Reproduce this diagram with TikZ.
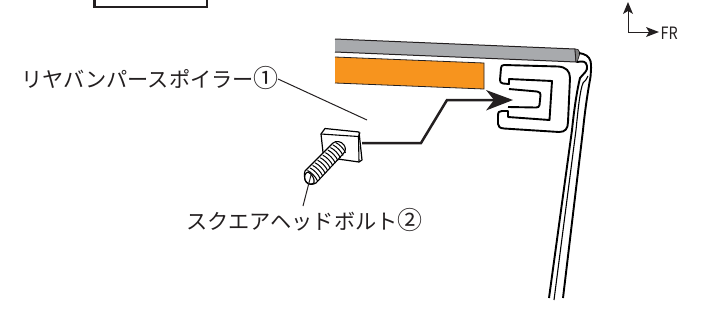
\documentclass[tikz,border=0pt]{standalone}
\usepackage{fontspec}
\newfontfamily\cjk{Noto Sans CJK JP}
\definecolor{barg}{RGB}{168,170,173}
\definecolor{orangef}{RGB}{247,148,30}
\definecolor{inkd}{RGB}{35,31,32}
\newcommand{\circnum}[1]{{\fontsize{25}{21}\selectfont #1}}
\tikzset{
  lab/.style={font=\cjk\fontsize{21.2}{21}\selectfont,text=inkd,inner sep=0pt,anchor=west},
  leader/.style={draw=inkd,line width=1pt},
  thick line/.style={draw=black,line width=1.9pt,line join=round},
  thin line/.style={draw=black,line width=1.1pt,line join=round}
}
\begin{document}
\begin{tikzpicture}[x=1pt,y=-1pt]
\useasboundingbox (0,0) rectangle (712,322);
% box at top
\draw[draw=inkd,line width=2.6pt] (94.5,-6) -- (94.5,7) -- (207,7) -- (207,-6);
% gray bar
\filldraw[fill=barg,draw=inkd,line width=1pt,line join=round] (335,39) -- (575,49) -- (576,62) -- (335,52);
\filldraw[fill=gray,draw=inkd,line width=0.7pt,line join=round] (575,49) -- (578,49.5) -- (580,53) -- (577,62.5) -- (576,62) -- cycle;
% orange
\filldraw[fill=orangef,draw=inkd,line width=0.8pt] (335,57) -- (484,63) -- (484,89) -- (335,83);
% post
\draw[thick line] (549,298) -- (572,130) .. controls (574,110) and (577,90) .. (580,78) .. controls (584,73) and (588,71) .. (587,66) .. controls (586,61) and (583,61) .. (577,62);
\draw[thick line] (563,298) -- (583,130) .. controls (585,110) and (588,90) .. (590.5,77) .. controls (591,70) and (591.5,65) .. (590.5,61) .. controls (589,56) and (585,54) .. (579,53);
\draw[thin line] (554,300) -- (576,130) .. controls (578,110) and (580,90) .. (583,83) .. controls (585,81) and (587,79) .. (588,76);
% bracket
\draw[thick line,fill=white] (501,68) .. controls (501,66) and (502,65) .. (504,65) -- (558,66.5)
  .. controls (566,67) and (570,71) .. (570,78) -- (568,122) .. controls (568,129) and (565,132) .. (559,132)
  -- (504,128.5) .. controls (500,128) and (498,127) .. (498,124) -- (498,116) .. controls (498,112) and (499,111) .. (502,111) -- (508,111) -- (508,117)
  -- (549.5,120) -- (552,81) -- (509,79) -- (509,84) -- (503,83.5) .. controls (501,83) and (500,82) .. (500,80) -- cycle;
\draw[thick line] (509,89) -- (537,91.5) .. controls (540,92) and (540.5,93) .. (540.5,95) -- (539.5,105) .. controls (539,107) and (538,107.5) .. (536,107.5) -- (508,107);
% bolt head
\filldraw[fill=white,thin line,line width=1.2pt] (321,134) -- (325,128.5) -- (359,132) -- (362,160) -- (359,162) -- (323.5,157) -- cycle;
\draw[thin line] (321,134) -- (358.5,136.5) -- (359,162);
\draw[thin line] (358.5,136.5) -- (360,132.5);
% bolt shaft
\filldraw[fill=white,thin line] (305,171) -- (333,143) .. controls (336,140.5) and (341,141) .. (344,145) .. controls (346,148) and (346,151) .. (343,154) -- (316,183) .. controls (313,185) and (308,185) .. (306,182) .. controls (304,178) and (304,174) .. (305,171) -- cycle;
\foreach \i in {0,...,11}{
  \draw[draw=black,line width=1pt] ({307.5+\i*2.55},{170.5-\i*2.55}) .. controls ({311+\i*2.55},{172-\i*2.55}) and ({316+\i*2.55},{177-\i*2.55}) .. ({317.5+\i*2.55},{181-\i*2.55});
}
\draw[thin line] (308,172) .. controls (305,172.5) and (304,177) .. (305,180) .. controls (307,184) and (311,185) .. (314,183) .. controls (315,179) and (312,174) .. (308,172) -- cycle;
% flow arrow
\coordinate (headside) at (362,143);
\coordinate (tipb) at (497,100);
\draw[draw=inkd,line width=2.5pt,line join=miter] (headside) -- (421,143) -- (447,100) -- (tipb);
\fill[inkd] (513,100) -- (486,90) -- (494,100) -- (486,110.5) -- cycle;
% leaders
\coordinate (l1a) at (278,79);
\coordinate (l1b) at (367,120);
\draw[leader] (l1a) -- (l1b);
\coordinate (l2a) at (303,206);
\coordinate (l2b) at (311,175);
\draw[leader] (l2a) -- (l2b);
% labels
\node[lab] (spoiler) at (21,78) {リヤバンパースポイラー\circnum{①}};
\node[lab] (bolt) at (186,220) {スクエアヘッドボルト\circnum{②}};
% axes
\coordinate (orig) at (628,32);
\coordinate (upt) at (628,2);
\coordinate (rt) at (659,32);
\draw[draw=inkd,line width=1pt] (upt |- 0,10) -- (orig) -- (650,32);
\fill[inkd] (upt) -- (623,14) -- (628,11) -- (633,14) -- cycle;
\fill[inkd] (rt) -- (646,27) -- (649,32) -- (646,37) -- cycle;
\node[font=\cjk\fontsize{17}{17}\selectfont,text=inkd,inner sep=0pt,anchor=west,xscale=0.85] (fr) at (660.5,33) {FR};
\end{tikzpicture}
\end{document}
